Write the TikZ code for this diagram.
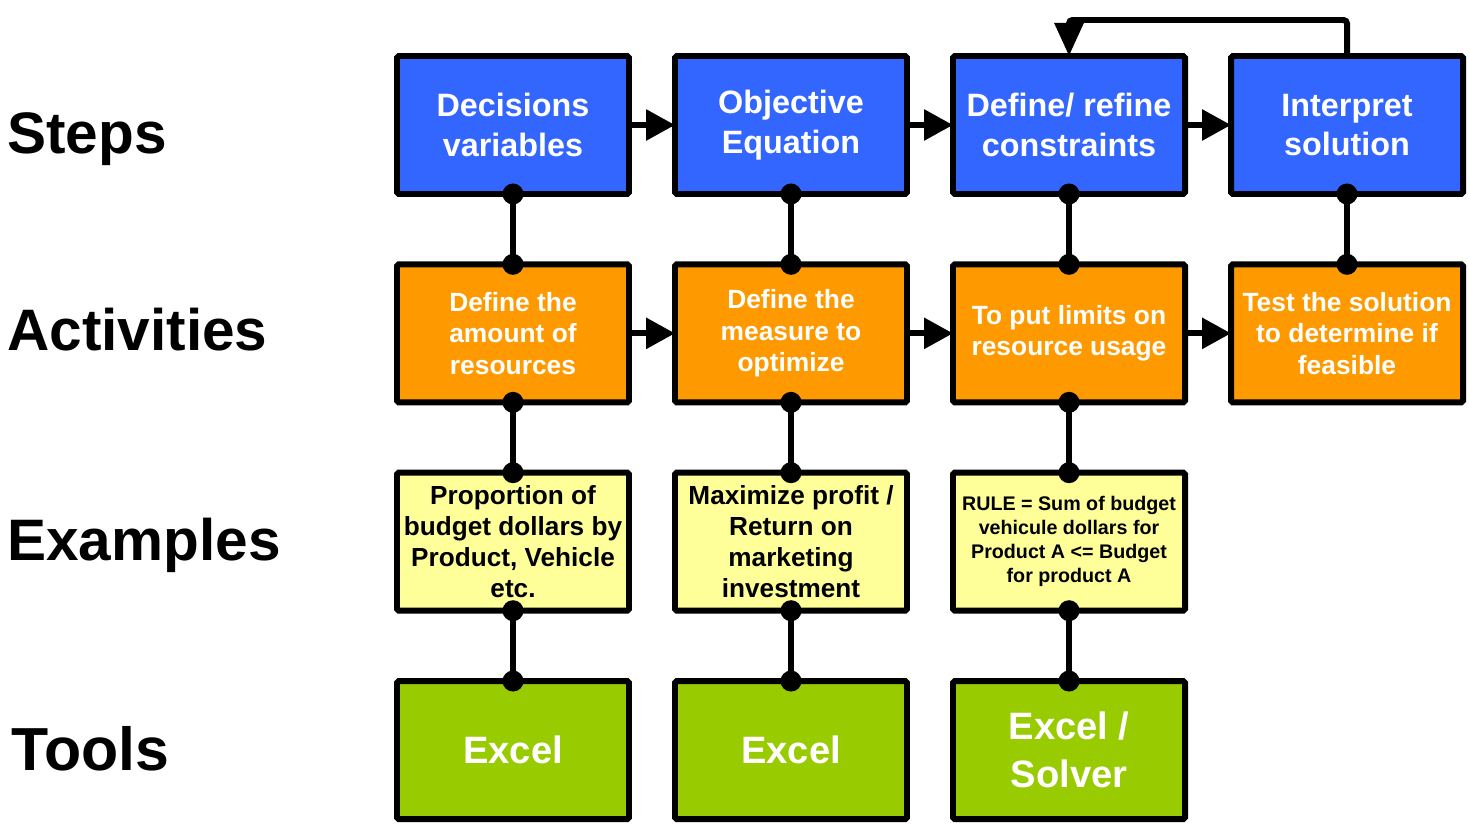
\documentclass[tikz,border=0pt]{standalone}
\usepackage{fontspec}
\setmainfont{Liberation Sans}
\usetikzlibrary{arrows.meta, positioning}
\definecolor{stepblue}{HTML}{3366FF}
\definecolor{actorange}{HTML}{FF9900}
\definecolor{exyellow}{HTML}{FFFF99}
\definecolor{toolgreen}{HTML}{99CC00}

\begin{document}
\begin{tikzpicture}[
  node distance=1.407cm and 0.92cm,
  box/.style={
    draw, line width=3.4pt, rounded corners=1pt, outer sep=0pt,
    minimum width=4.64cm, minimum height=2.76cm,
    align=center, inner sep=2pt, font=\bfseries
  },
  stepbox/.style={box, fill=stepblue, text=white,
    font=\bfseries\fontsize{18.4}{22.7}\selectfont},
  actbox/.style={box, fill=actorange, text=white,
    font=\bfseries\fontsize{15}{17.9}\selectfont},
  exbox/.style={box, fill=exyellow, text=black,
    font=\bfseries\fontsize{14.9}{17.6}\selectfont},
  toolbox/.style={box, fill=toolgreen, text=white,
    font=\bfseries\fontsize{21.7}{27.2}\selectfont},
  rowlbl/.style={anchor=base west, inner sep=0pt,
    font=\bfseries\fontsize{33.3}{36}\selectfont},
  link/.style={draw, line width=3.4pt},
  flow/.style={link, -{Triangle[length=0.58cm, width=0.6cm]}}
]
  \useasboundingbox (0,0) rectangle (29.38,-16.58);

  % row titles
  \node[rowlbl] (lsteps) at (0.14,-3.08)  {Steps};
  \node[rowlbl] (lact)   at (0.14,-7.02)  {Activities};
  \node[rowlbl] (lex)    at (0.14,-11.22) {Examples};
  \node[rowlbl, font=\bfseries\fontsize{34.6}{36}\selectfont] (ltools)
    at (0.22,-15.4) {Tools};

  % steps
  \node[stepbox] (dec) at (10.26,-2.5) {Decisions\\variables};
  \node[stepbox] (obj)    [right=of dec]    {Objective\\Equation};
  \node[stepbox] (refine) [right=of obj]    {Define/ refine\\constraints};
  \node[stepbox] (interp) [right=of refine] {Interpret\\solution};

  % activities
  \node[actbox] (act1) [below=of dec]    {Define the\\amount of\\resources};
  \node[actbox] (act2) [below=of obj]    {Define the\\measure to\\optimize};
  \node[actbox] (act3) [below=of refine] {To put limits on\\resource usage};
  \node[actbox] (act4) [below=of interp] {Test the solution\\to determine if\\feasible};

  % examples
  \node[exbox] (ex1) [below=of act1]
    {Proportion of\\budget dollars by\\Product, Vehicle\\etc.};
  \node[exbox] (ex2) [below=of act2]
    {Maximize profit /\\Return on\\marketing\\investment};
  \node[exbox, font=\bfseries\fontsize{11.2}{13.6}\selectfont] (ex3) [below=of act3]
    {RULE = Sum of budget\\vehicule dollars for\\Product A <= Budget\\for product A};

  % tools
  \node[toolbox] (tool1) [below=of ex1] {Excel};
  \node[toolbox] (tool2) [below=of ex2] {Excel};
  \node[toolbox] (tool3) [below=of ex3] {Excel /\\Solver};

  % sequence arrows
  \foreach \a/\b in {dec/obj, obj/refine, refine/interp,
                     act1/act2, act2/act3, act3/act4}
    \draw[flow] (\a.east) -- (\b.west);

  % loop back from the last step
  \draw[flow, -{Triangle[length=0.66cm, width=0.56cm]}, rounded corners=2pt]
    (interp.north) |- ([yshift=0.72cm]refine.north) -- (refine.north);

  % column links with dots
  \foreach \a/\b in {dec/act1, act1/ex1, ex1/tool1,
                     obj/act2, act2/ex2, ex2/tool2,
                     refine/act3, act3/ex3, ex3/tool3,
                     interp/act4} {
    \draw[link] (\a.south) -- (\b.north);
    \fill (\a.south) circle (0.21cm) (\b.north) circle (0.21cm);
  }
\end{tikzpicture}
\end{document}
